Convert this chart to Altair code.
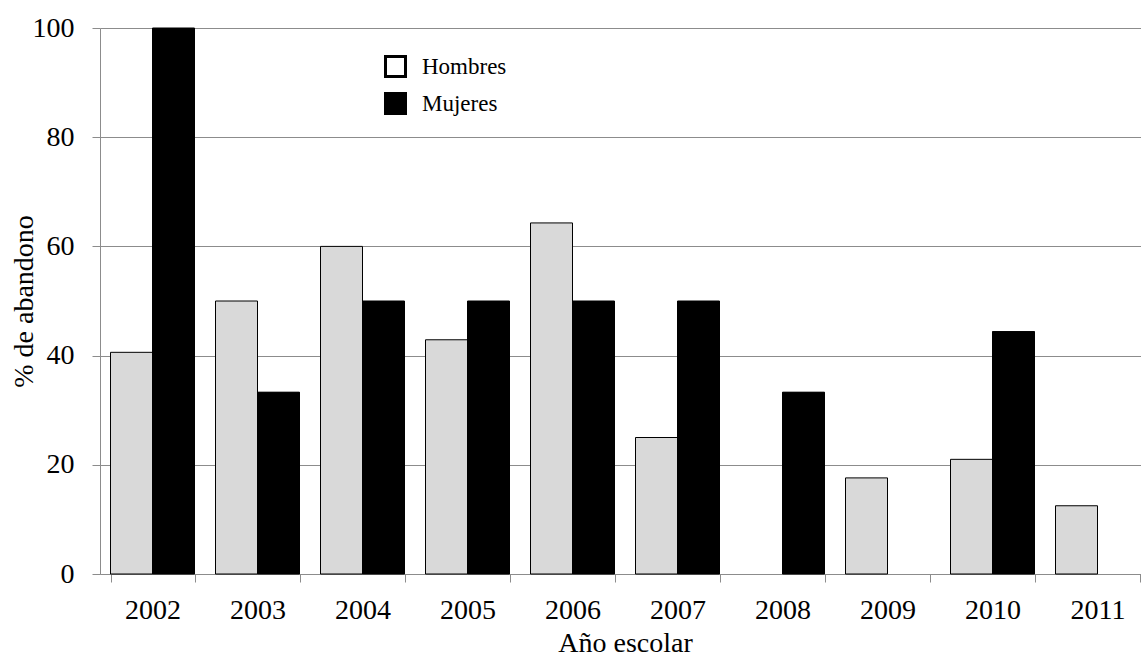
import altair as alt
import pandas as pd

years = ["2002", "2003", "2004", "2005", "2006", "2007", "2008", "2009", "2010", "2011"]
hombres = [40.6, 50.0, 60.0, 42.9, 64.3, 25.0, 0.0, 17.6, 21.0, 12.5]
mujeres = [100.0, 33.3, 50.0, 50.0, 50.0, 50.0, 33.3, 0.0, 44.4, 0.0]
series = ["Hombres", "Mujeres"]
y_ticks = [0, 20, 40, 60, 80, 100]

rows = []
for yr, h, m in zip(years, hombres, mujeres):
    if h > 0:
        rows.append({"Año": yr, "Sexo": "Hombres", "Valor": h})
    if m > 0:
        rows.append({"Año": yr, "Sexo": "Mujeres", "Valor": m})
df = pd.DataFrame(rows)

FONT = "Liberation Serif"

base = alt.Chart(df).encode(
    x=alt.X(
        "Año:N",
        scale=alt.Scale(domain=years, range=[0, 1050], paddingInner=0.2, paddingOuter=0.1),
        axis=alt.Axis(
            title="Año escolar",
            titleX=525, titleY=77, titleBaseline="alphabetic", titleAlign="center",
            labelAngle=0, tickBand="extent",
            labelBaseline="alphabetic", labelPadding=36, tickSize=8,
            labelFont=FONT, titleFont=FONT,
            grid=False,
        ),
    ),
    xOffset=alt.XOffset("Sexo:N", scale=alt.Scale(domain=series, paddingInner=0, paddingOuter=0)),
    y=alt.Y(
        "Valor:Q",
        scale=alt.Scale(domain=[0, 100], nice=False),
        axis=alt.Axis(
            title="% de abandono", values=y_ticks,
            titleX=-68, titleY=273, titleAngle=270, titleBaseline="alphabetic", titleAlign="center",
            tickSize=8, labelPadding=18, grid=True,
            labelFont=FONT, titleFont=FONT,
        ),
    ),
)

legend_layer = base.mark_bar().encode(
    fill=alt.Fill(
        "Sexo:N",
        scale=alt.Scale(domain=series, range=["white", "black"]),
        legend=alt.Legend(
            title=None, orient="none", legendX=284, legendY=27,
            symbolType="square", symbolSize=400, symbolStrokeColor="black", symbolStrokeWidth=3,
            labelFont=FONT, labelFontSize=23, labelColor="black", labelOffset=15,
            rowPadding=4, padding=0,
        ),
    )
)

bars = base.mark_bar(stroke="black", strokeWidth=1).encode(
    fill=alt.Fill("Sexo:N", scale=alt.Scale(domain=series, range=["#d9d9d9", "black"]), legend=None)
)

chart = (
    alt.layer(legend_layer, bars)
    .resolve_scale(fill="independent")
    .properties(
        width=1041, height=546,
        autosize=alt.AutoSizeParams(type="none"),
        padding={"left": 100, "top": 28, "right": 0, "bottom": 82},
        background="white",
    )
    .configure(font=FONT)
    .configure_view(stroke=None)
    .configure_axis(
        labelFont=FONT, labelFontSize=28, labelColor="black",
        titleFont=FONT, titleFontSize=28, titleFontWeight="normal", titleColor="black",
        domainColor="#8c8c8c", tickColor="#8c8c8c", gridColor="#8c8c8c",
        domainWidth=1, tickWidth=1, gridWidth=1,
    )
    .configure_legend(labelFont=FONT)
)

chart.save("out.html", embed_options={"renderer": "svg", "actions": False})
